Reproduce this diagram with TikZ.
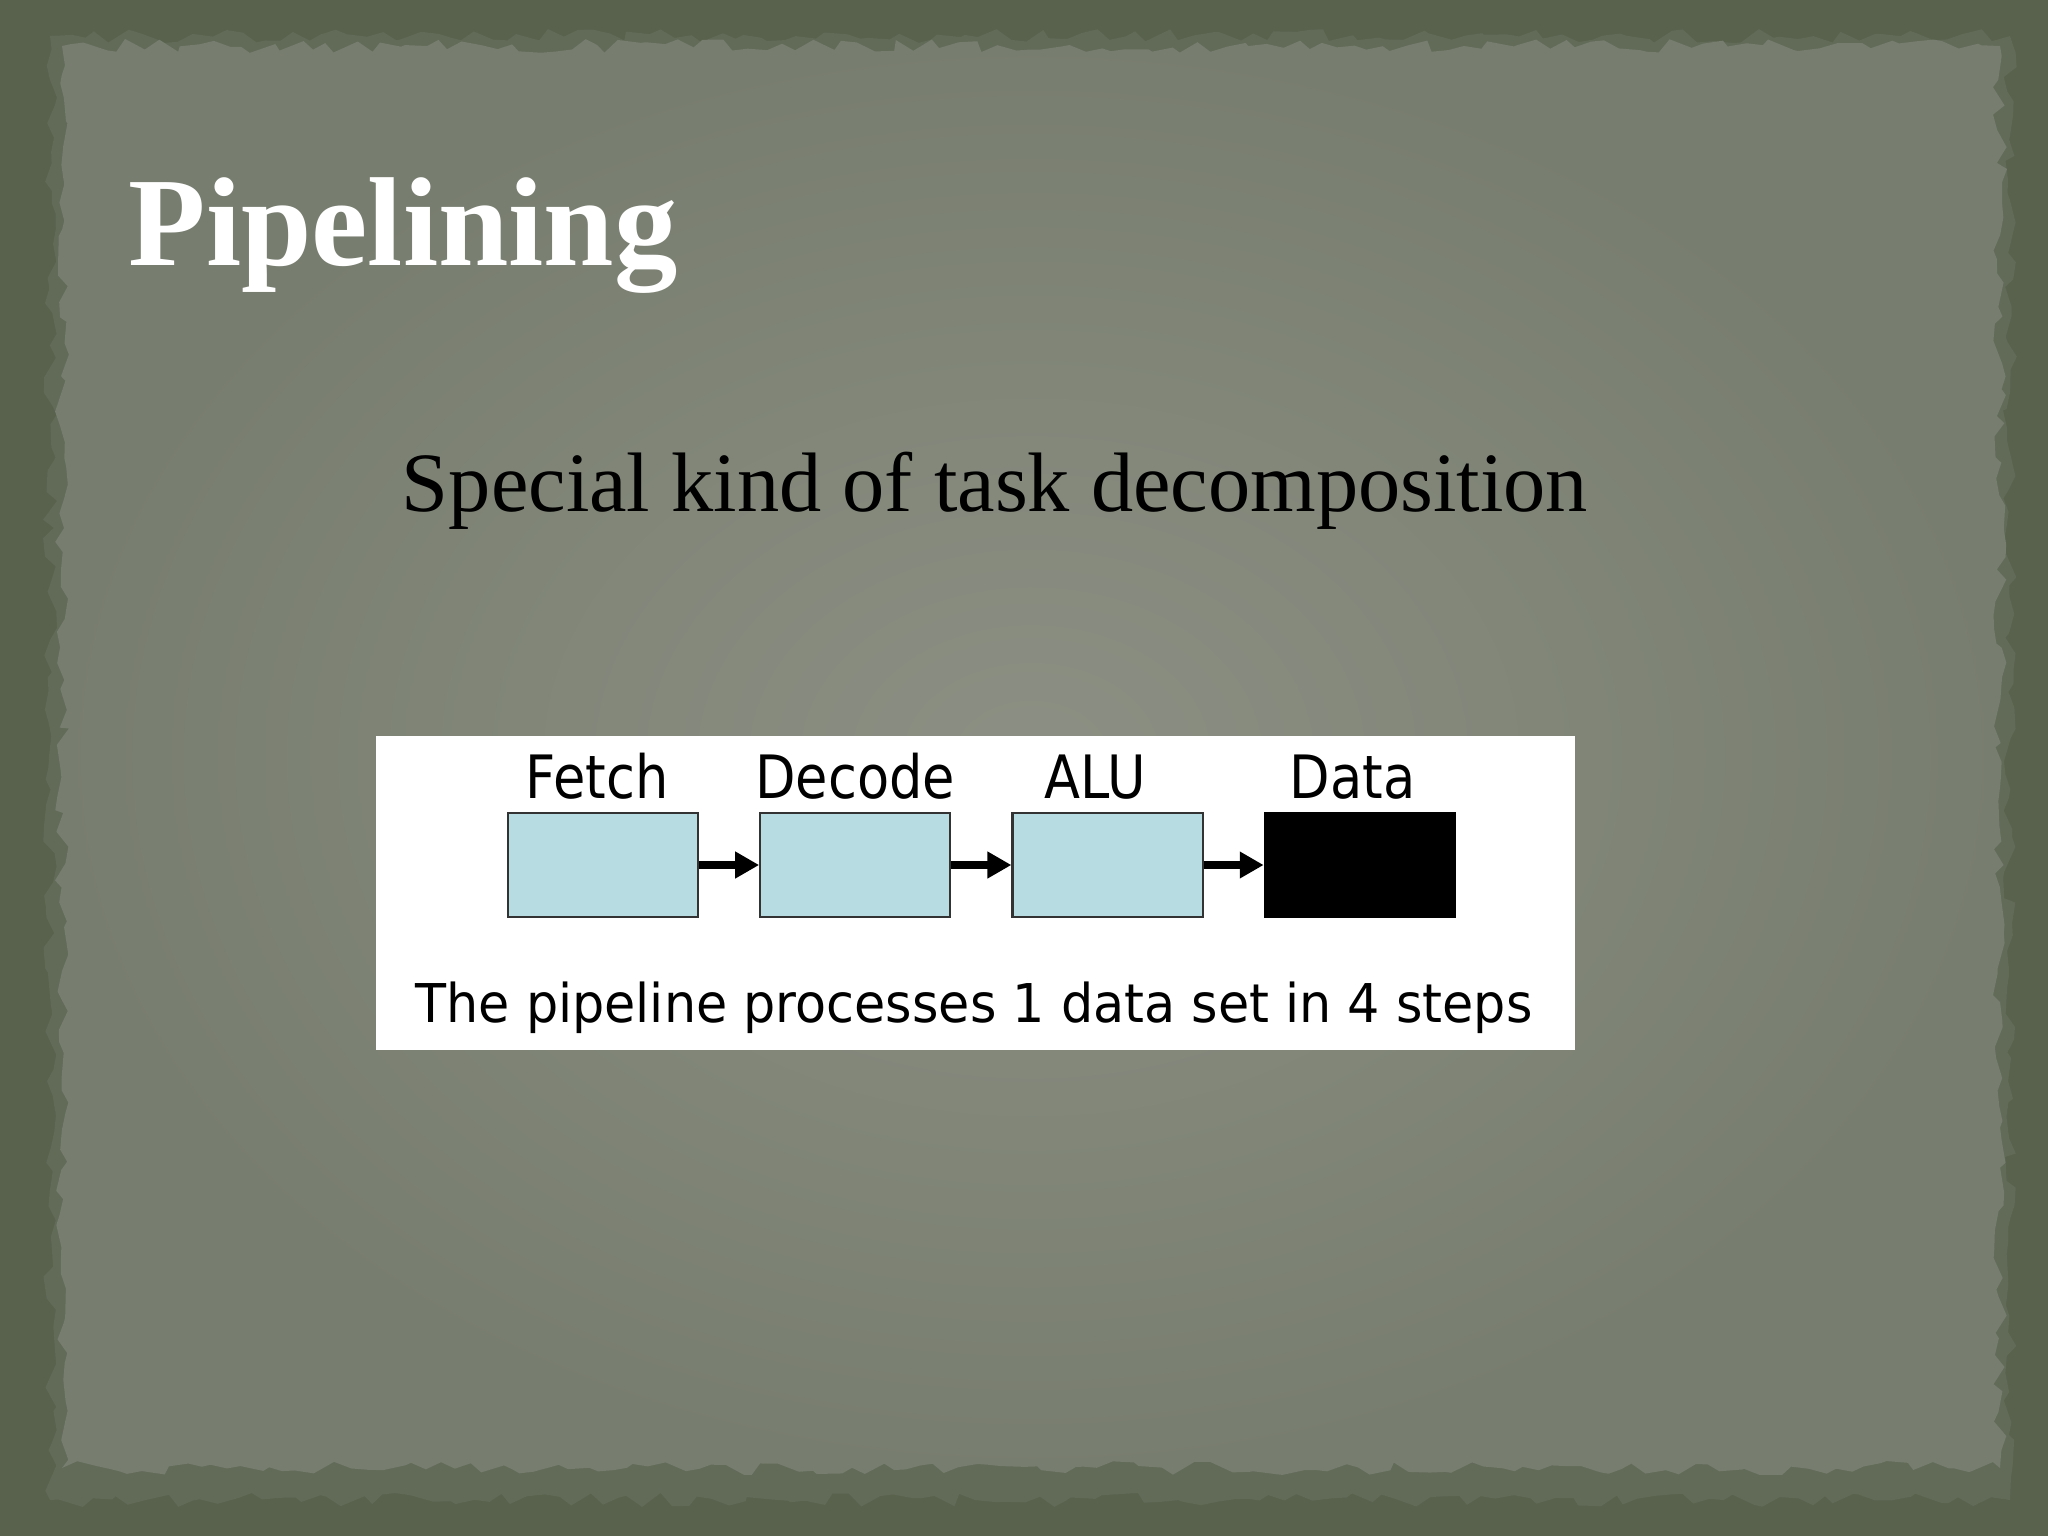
\documentclass[tikz,border=0pt]{standalone}
\usepackage{fontspec}
\setmainfont{Liberation Serif}
\newfontfamily\stagefont[FakeStretch=0.88]{DejaVu Sans}
\newfontfamily\notefont[FakeStretch=0.95]{DejaVu Sans}
\usetikzlibrary{positioning,arrows.meta,decorations.pathmorphing}

\definecolor{slateback}{RGB}{88,98,76}
\definecolor{slatemid}{RGB}{98,106,88}
\definecolor{paperlight}{RGB}{140,144,132}
\definecolor{paperdark}{RGB}{119,125,111}
\definecolor{stageblue}{RGB}{183,221,226}

\tikzset{
  stage/.style={draw=black!80, line width=0.6pt, fill=stageblue,
    minimum width=1.9cm, minimum height=1.04cm, inner sep=0pt},
  stagelbl/.style={font=\stagefont\fontsize{17}{20}\selectfont, inner sep=0pt, anchor=base},
  flow/.style={-{Triangle[length=6.8pt,width=7.2pt]}, line width=2.3pt},
  torn/.style={decorate, decoration={random steps, segment length=4pt, amplitude=2pt}}
}

\begin{document}
\begin{tikzpicture}[x=0.01cm,y=-0.01cm]
\pgfmathsetseed{7}
\useasboundingbox (0,0) rectangle (2048,1536);
% background and torn paper
\fill[slateback] (0,0) rectangle (2048,1536);
\fill[slatemid, torn] (50,36) rectangle (2010,1500);
\shade[torn, inner color=paperlight, outer color=paperdark] (62,46) rectangle (2000,1468);

% headings
\node[anchor=base west, text=white, inner sep=0pt,
  font=\bfseries\fontsize{36}{40}\selectfont] (title) at (128,265) {Pipelining};
\node[anchor=base, inner sep=0pt, font=\fontsize{24}{28}\selectfont] (subtitle)
  at (995,511) {Special kind of task decomposition};

% pipeline panel
\node[fill=white, anchor=north west, inner sep=0pt,
  minimum width=11.99cm, minimum height=3.14cm] (panel) at (375,735) {};
\node[stage] (fetch) at (603,865) {};
\node[stage, right=0.6cm of fetch] (decode) {};
\node[stage, right=0.6cm of decode] (alu) {};
\node[stage, fill=black, draw=black, right=0.6cm of alu] (data) {};
\foreach \a/\b in {fetch/decode, decode/alu, alu/data}
  \draw[flow] (\a) -- (\b);
\node[stagelbl] (fetchlbl) at ([xshift=-0.06cm, yshift=0.13cm]fetch.north) {Fetch};
\node[stagelbl] (decodelbl) at ([yshift=0.13cm]decode.north) {Decode};
\node[stagelbl] (alulbl) at ([xshift=-0.12cm, yshift=0.13cm]alu.north) {ALU};
\node[stagelbl] (datalbl) at ([xshift=-0.07cm, yshift=0.13cm]data.north) {Data};
\node[anchor=base, inner sep=0pt, font=\notefont\fontsize{15.2}{18}\selectfont] (note)
  at (974,1022) {The pipeline processes 1 data set in 4 steps};
\end{tikzpicture}
\end{document}
